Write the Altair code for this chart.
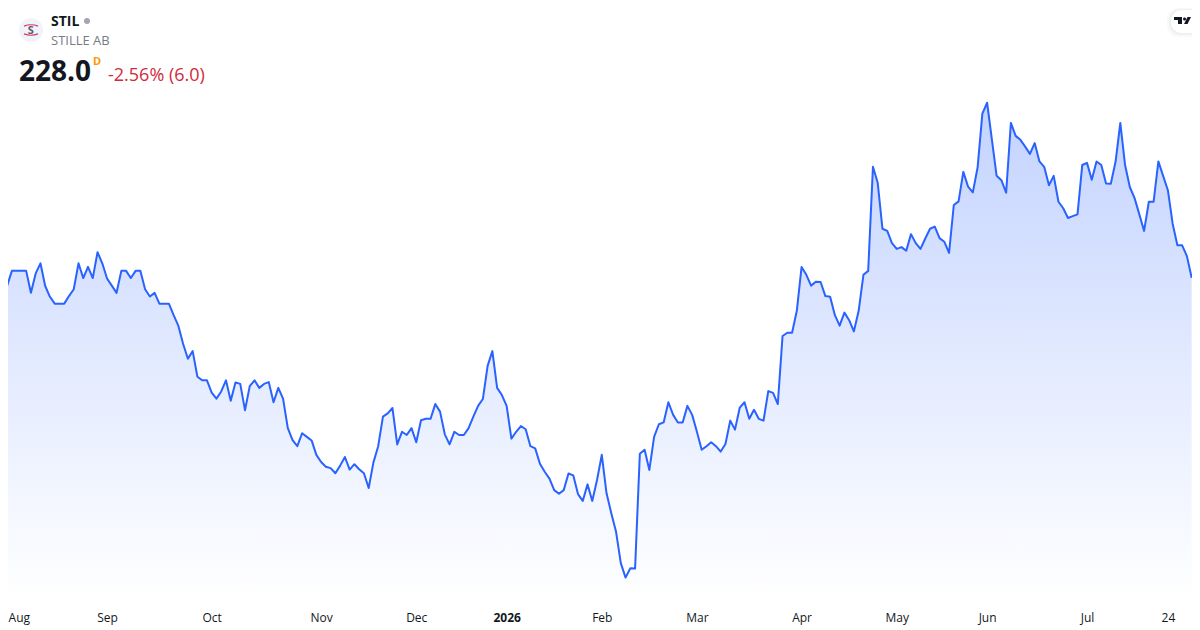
import json
import altair as alt
import pandas as pd

price = [
225.8,225.8,229.9,229.9,229.9,229.9,223.8,229.2,232.0,225.7,
222.7,220.8,220.8,220.8,222.9,224.8,232.0,227.9,231.0,227.9,
235.1,232.0,227.8,225.8,223.8,229.9,229.9,227.9,229.9,229.9,
224.8,222.8,223.8,220.8,220.8,220.8,217.6,214.6,209.6,205.5,
207.6,200.5,199.5,199.5,196.1,194.4,196.4,199.5,193.8,198.9,
198.5,191.2,197.9,199.5,197.4,198.5,199.0,193.4,197.4,194.4,
186.2,182.9,181.2,184.8,183.8,182.8,178.8,176.8,175.5,175.1,
173.7,175.8,178.2,174.7,176.2,174.8,173.7,169.6,176.7,181.2,
189.4,190.3,191.8,181.7,185.2,184.3,186.2,182.3,188.4,188.8,
188.8,192.9,190.8,184.5,181.7,185.2,184.3,184.3,186.2,189.4,
192.4,194.3,203.5,207.6,197.4,195.4,192.4,183.3,185.2,186.8,
185.9,181.2,180.6,176.3,174.1,172.2,169.0,168.0,169.0,173.6,
173.1,167.9,166.0,170.6,166.0,171.8,178.8,168.1,162.6,157.4,
148.7,144.7,147.3,147.2,179.1,180.2,174.6,183.8,187.3,187.8,
193.4,189.9,187.8,187.8,192.4,189.9,185.2,180.2,181.2,182.3,
181.2,179.7,181.8,188.3,185.8,191.9,193.4,188.8,191.3,188.8,
188.3,196.5,196.0,192.9,211.8,212.7,212.7,218.8,231.0,228.8,
225.8,226.9,226.8,222.9,222.7,217.6,214.7,218.3,216.2,213.1,
218.8,228.8,229.9,258.8,254.4,241.6,241.0,237.6,236.0,236.5,
235.5,240.1,237.6,236.0,238.9,241.6,242.2,239.0,238.0,234.9,
248.2,249.2,257.4,253.3,251.7,258.6,273.6,276.6,266.4,256.3,
255.1,251.6,271.0,267.4,266.3,264.4,262.4,265.4,260.3,258.8,
253.7,256.3,249.1,247.3,244.6,245.1,245.6,259.3,259.9,255.2,
260.3,259.3,254.2,254.1,260.2,271.0,259.3,253.2,250.1,245.6,
241.0,249.1,249.1,260.3,256.3,252.3,243.0,237.0,237.0,234.0,
228.0,
]
bar = list(range(len(price)))

tick_bars = [1.2, 22, 44, 67, 87, 106, 126, 146, 168, 188, 207, 228, 245]
tick_labels = ["Aug", "Sep", "Oct", "Nov", "Dec", "2026", "Feb", "Mar", "Apr", "May", "Jun", "Jul", "24"]

FONT = "Open Sans"
BLUE = "#2962FF"
W, H = 1184, 590

df = pd.DataFrame({"bar": bar, "price": price})
label_expr = f"{json.dumps(tick_labels)}[indexof({json.dumps(tick_bars)}, datum.value)]"

x = alt.X(
    "bar:Q",
    scale=alt.Scale(domain=[1.18, 250.07], nice=False, zero=False),
    axis=alt.Axis(
        values=tick_bars, labelExpr=label_expr, title=None, grid=False, domain=False, ticks=False,
        labelFontSize=12, labelFont=FONT, labelColor="#131722", labelPadding=14,
        labelOverlap=False, labelFlush=False, labelBound=False,
        labelFontWeight=alt.expr("datum.value == 106 ? 'bold' : 'normal'"),
        labelAlign=alt.expr("datum.value == 1.2 ? 'left' : 'center'"),
    ),
)
y = alt.Y("price:Q", stack=False, scale=alt.Scale(domain=[139.03, 302.92], nice=False, zero=False), axis=None)

area = alt.Chart(df).mark_area(
    clip=True,
    opacity=1,
    color=alt.Gradient(
        gradient="linear", x1=0, x2=0, y1=0, y2=1,
        stops=[
            alt.GradientStop(color="#C3D3FF", offset=0),
            alt.GradientStop(color="#FFFFFF", offset=1),
        ],
    ),
).encode(x=x, y=y, y2=alt.value(H))
line = alt.Chart(df).mark_line(clip=True, color=BLUE, strokeWidth=2, strokeJoin="round").encode(x=x, y=y)


def label(text, px, py, size, color, weight="normal", baseline="middle"):
    return alt.Chart(pd.DataFrame({"t": [text]})).mark_text(
        font=FONT, fontSize=size, color=color, fontWeight=weight, align="left", baseline=baseline
    ).encode(x=alt.value(px - 8), y=alt.value(py - 8), text="t:N")


def one(mark_px, mark_py, **kw):
    return alt.Chart(pd.DataFrame({"a": [0]})).mark_point(**kw).encode(x=alt.value(mark_px - 8), y=alt.value(mark_py - 8))


def pill(x1, x2, y1, y2, color, opacity=1.0):
    return alt.Chart(pd.DataFrame({"a": [0]})).mark_rect(cornerRadius=11, color=color, opacity=opacity).encode(
        x=alt.value(x1 - 8), x2=alt.value(x2 - 8), y=alt.value(y1 - 8), y2=alt.value(y2 - 8)
    )


avatar = one(31, 30, shape="circle", filled=True, color="#F0F3FA", size=576, opacity=1)
avatar_arcs = one(
    31, 30, shape="M-1,-0.55 Q0,-0.95 1,-0.55 M-1,0.55 Q0,0.95 1,0.55",
    filled=False, color="#D9365B", size=196, strokeWidth=1.2, opacity=1,
)
avatar_s = label("S", 27.8, 30.5, 11, "#5A5D6B", "bold")
status_dot = one(87, 21, shape="circle", filled=True, color="#A3A6AF", size=36, opacity=1)

shadow1 = pill(1167, 1204, 8, 37, "#000000", 0.025)
shadow2 = pill(1169, 1202, 9, 35, "#000000", 0.035)
badge = pill(1171, 1200, 10, 33, "#FFFFFF")
tv_logo = one(
    1182.5, 20.5,
    shape="M-1,-0.41H-0.06V0.41H-0.53V-0.06H-1Z M0.06,-0.18A0.18,0.18 0 1 0 0.42,-0.18A0.18,0.18 0 1 0 0.06,-0.18Z M0.18,0.41L0.59,-0.41H1L0.59,0.41Z",
    filled=True, color="#131722", size=289, opacity=1,
)

chart = alt.layer(
    area, line,
    avatar, avatar_arcs, avatar_s,
    label("STIL", 51, 22, 14, "#131722", "bold"),
    status_dot,
    label("STILLE AB", 51, 41, 13, "#787B86"),
    label("228.0", 19, 73, 28, "#131722", "bold"),
    label("D", 93, 62, 11, "#FF9800", "bold"),
    label("-2.56% (6.0)", 108, 76, 18, "#CE2B40"),
    shadow1, shadow2, badge, tv_logo,
).properties(
    width=W, height=H,
    padding={"left": 0, "right": 0, "top": 0, "bottom": 28},
    autosize=alt.AutoSizeParams(type="none"),
    background="#FFFFFF",
).configure_view(stroke=None)

chart.save("out.html", embed_options={"renderer": "svg", "actions": False})
